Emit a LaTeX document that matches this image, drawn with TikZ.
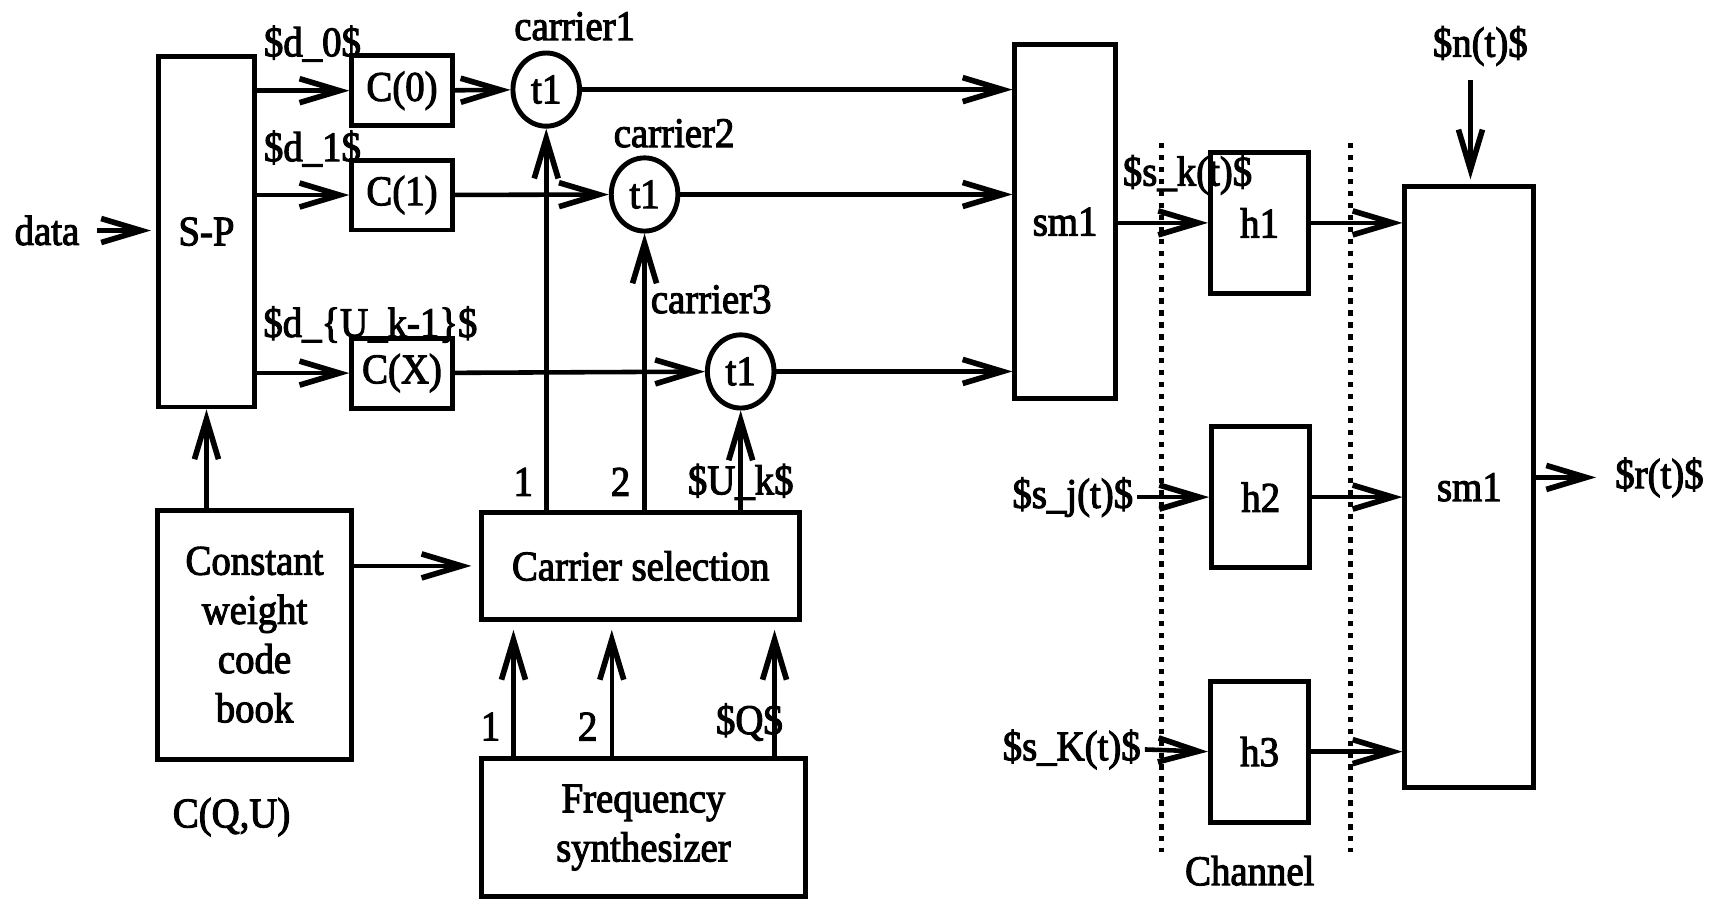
\documentclass[tikz,border=0pt]{standalone}
\usepackage{fontspec}
\setmainfont{Liberation Serif}[FakeStretch=0.92,FakeBold=2.5]
\usetikzlibrary{arrows.meta,positioning,shapes.geometric}
\tikzset{
  bx/.style={draw, line width=1.4pt, align=center, inner sep=1pt},
  cbx/.style={bx, minimum width=1.005cm, minimum height=0.699cm},
  hbx/.style={bx, minimum width=0.983cm, minimum height=1.41cm},
  mul/.style={draw, line width=1.4pt, ellipse, minimum width=0.666cm, minimum height=0.732cm, inner sep=0pt},
  arr/.style={-{Straight Barb[length=4mm,width=2.4mm,line width=1.6pt]}, line width=1.3pt},
  lbl/.style={inner sep=1pt},
  chan/.style={line width=1.4pt, dash pattern=on 1.5pt off 1.9pt},
}

\begin{document}
\begin{tikzpicture}[x=0.010925cm, y=-0.010925cm, font=\fontsize{12}{14}\selectfont]
  \useasboundingbox (0,0) rectangle (1568,823);
  \node[bx, minimum width=0.961cm, minimum height=3.507cm] (sp) at (189,212) {S-P};
  \node[cbx] (c0) at (368,83) {C(0)};
  \node[cbx] (c1) at (368,178.5) {C(1)};
  \node[cbx] (cx) at (368,341.5) {C(X)};
  \node[mul] (m1) at (500,82) {t1};
  \node[mul] (m2) at (590,178) {t1};
  \node[mul] (m3) at (678,340) {t1};
  \node[bx, minimum width=1.005cm, minimum height=3.54cm] (sma) at (975,203) {sm1};
  \node[hbx] (h1) at (1153,204) {h1};
  \node[hbx] (h2) at (1154,455) {h2};
  \node[hbx] (h3) at (1153,688) {h3};
  \node[bx, minimum width=1.289cm, minimum height=6.009cm] (smb) at (1345,446) {sm1};
  \node[bx, minimum width=1.945cm, minimum height=2.491cm] (cb) at (233,581) {Constant\\weight\\code\\book};
  \node[bx, minimum width=3.179cm, minimum height=1.071cm] (cs) at (586.5,518) {Carrier selection};
  \node[bx, minimum width=3.234cm, minimum height=1.387cm] (fs) at (589,757.5) {Frequency\\synthesizer};

  \node[lbl] (din) at (43,211) {data};
  \node[lbl] (ld0) at (286,40) {\$d\_0\$};
  \node[lbl] (ld1) at (286,136) {\$d\_1\$};
  \node[lbl] (ldx) at (339,297) {\$d\_\{U\_k-1\}\$};
  \node[lbl] (lc1) at (526,24) {carrier1};
  \node[lbl] (lc2) at (617,122) {carrier2};
  \node[lbl] (lc3) at (651,274) {carrier3};
  \node[lbl] (ls1) at (479,441) {1};
  \node[lbl] (ls2) at (568,441) {2};
  \node[lbl] (lsu) at (678,441) {\$U\_k\$};
  \node[lbl] (lf1) at (449,665) {1};
  \node[lbl] (lf2) at (538,665) {2};
  \node[lbl] (lfq) at (686,661) {\$Q\$};
  \node[lbl] (lcq) at (212,748) {C(Q,U)};
  \node[lbl] (lsk) at (1087,160) {\$s\_k(t)\$};
  \node[lbl] (lsj) at (982,455) {\$s\_j(t)\$};
  \node[lbl] (lsK) at (981,686) {\$s\_K(t)\$};
  \node[lbl] (lnt) at (1355,42) {\$n(t)\$};
  \node[lbl] (lrt) at (1519,437) {\$r(t)\$};
  \node[lbl] (lch) at (1144,797) {Channel};

  \coordinate (f1) at (470,694); \coordinate (f2) at (560,694); \coordinate (f3) at (709,694);
  \coordinate (nin) at (1346,73);

  \draw[arr, shorten <=1.3mm, shorten >=0.5mm] (din.east) -- (sp.west |- din.east);
  \draw[arr] (sp.east |- c0) -- (c0); \draw[arr] (sp.east |- c1) -- (c1); \draw[arr] (sp.east |- cx) -- (cx);
  \draw[arr] (c0) -- (m1); \draw[arr] (c1) -- (m2); \draw[arr] (cx) -- (m3);
  \draw[arr] (m1) -- (m1 -| sma.west); \draw[arr] (m2) -- (m2 -| sma.west); \draw[arr] (m3) -- (m3 -| sma.west);
  \draw[arr] (cs.north -| m1) -- (m1); \draw[arr] (cs.north -| m2) -- (m2); \draw[arr] (cs.north -| m3) -- (m3);
  \draw[arr] (cb.north -| sp) -- (sp.south);
  \draw[arr, shorten >=0.8mm] (cb.east |- cs) -- (cs.west);
  \draw[arr, shorten >=0.8mm] (f1) -- (f1 |- cs.south); \draw[arr, shorten >=0.8mm] (f2) -- (f2 |- cs.south); \draw[arr, shorten >=0.8mm] (f3) -- (f3 |- cs.south);
  \draw[arr] (sma.east |- h1) -- (h1.west);
  \draw[arr] (lsj.east) -- (h2.west); \draw[arr] (lsK.east) -- (h3.west);
  \draw[arr] (h1) -- (h1 -| smb.west); \draw[arr] (h2) -- (h2 -| smb.west); \draw[arr] (h3) -- (h3 -| smb.west);
  \draw[arr, shorten >=0.5mm] (nin) -- (nin |- smb.north);
  \draw[arr, shorten >=1.5mm] (smb.east |- lrt) -- (lrt.west);
  \draw[chan] (1063,131) -- (1063,780); \draw[chan] (1236,131) -- (1236,780);
\end{tikzpicture}
\end{document}
